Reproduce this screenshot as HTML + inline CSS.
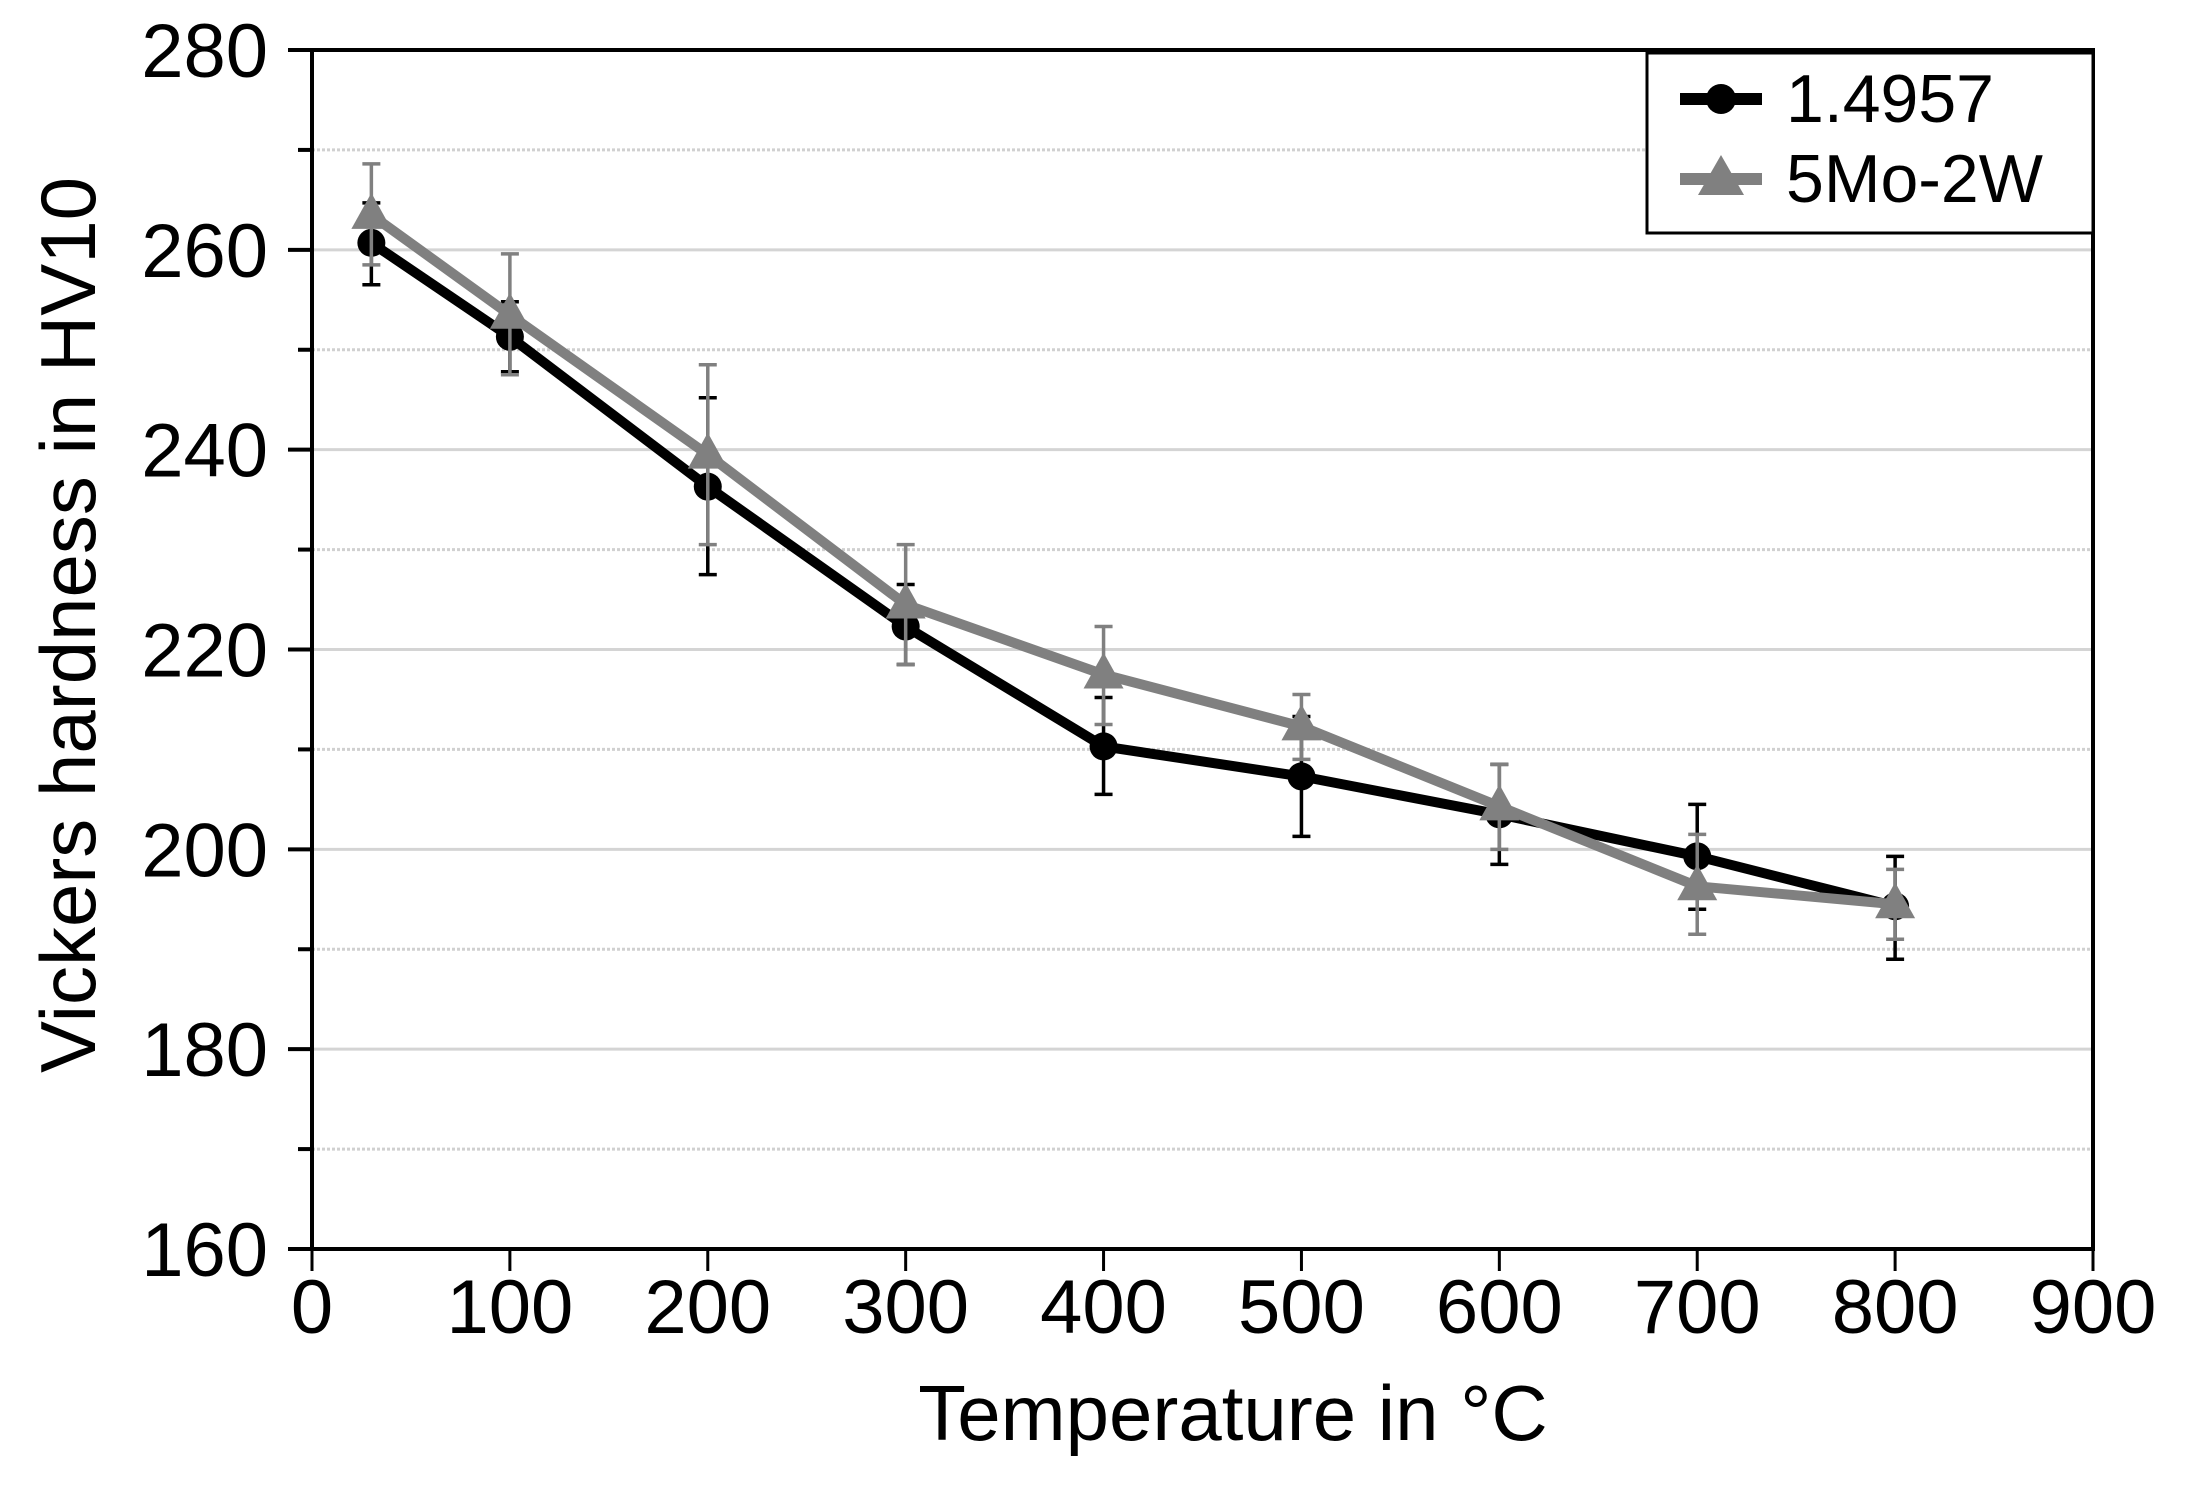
<!DOCTYPE html>
<html><head><meta charset="utf-8"><style>
html,body{margin:0;padding:0;background:#fff;}
svg{display:block;font-family:"Liberation Sans",Arial,sans-serif;}
</style></head><body>
<svg id="chart" width="2189" height="1501" viewBox="0 0 2189 1501" xmlns="http://www.w3.org/2000/svg">
<g id="grid"></g>
<g id="series"></g>
<g id="axes"></g>
<text x="1233" y="1440" font-size="78" text-anchor="middle">Temperature in °C</text>
<text transform="translate(95,625) rotate(-90)" font-size="78" text-anchor="middle">Vickers hardness in HV10</text>
<g>
<rect x="1647" y="53" width="446" height="180" fill="#fff" stroke="#000" stroke-width="3"/>
<g>
<line x1="1680" y1="99" x2="1762" y2="99" stroke="#000" stroke-width="12"/>
<circle cx="1721" cy="99" r="15" fill="#000"/>
<text x="1786" y="122" font-size="68">1.4957</text>
</g>
<g>
<line x1="1680" y1="179" x2="1762" y2="179" stroke="#808080" stroke-width="12"/>
<polygon points="1721,155 1744,195 1698,195" fill="#808080"/>
<text x="1786" y="202" font-size="68">5Mo-2W</text>
</g>
</g>
</svg>
<script>
const temps=[30,100,200,300,400,500,600,700,800];
const hardA=[260.7,251.3,236.3,222.3,210.3,207.3,203.5,199.3,194.3];
const lowA=[256.5,247.8,227.5,218.5,205.5,201.3,198.5,194,189];
const highA=[264.7,254.8,245.2,226.5,215.2,213.3,208.5,204.5,199.3];
const hardB=[263.5,253.5,239.5,224.5,217.5,212.3,204.3,196.3,194.5];
const lowB=[258.5,247.5,230.5,218.5,212.5,209,200,191.5,191];
const highB=[268.6,259.6,248.5,230.5,222.3,215.5,208.5,201.5,198];
const xTicks=[0,100,200,300,400,500,600,700,800,900];
const yTicks=[160,180,200,220,240,260,280];
const yMinor=[170,190,210,230,250,270];
const L=312,R=2093,T=50,B=1249;
const xs=v=>L+(v/900)*(R-L);
const ys=v=>B-(v-160)/120*(B-T);
const NS="http://www.w3.org/2000/svg";
function mk(tag,attrs,parent){const e=document.createElementNS(NS,tag);for(const k in attrs)e.setAttribute(k,attrs[k]);parent.appendChild(e);return e;}
const grid=document.getElementById('grid'),axes=document.getElementById('axes'),ser=document.getElementById('series');
yTicks.forEach(v=>{if(v===160||v===280)return;const l=mk('line',{x1:L,x2:R,y1:ys(v),y2:ys(v),stroke:'#d4d4d4','stroke-width':3},grid);

});
yMinor.forEach(v=>{const l=mk('line',{x1:L,x2:R,y1:ys(v),y2:ys(v),stroke:'#d0d0d0','stroke-width':3,'stroke-dasharray':'3 2'},grid);


const t=mk('line',{x1:L-14,x2:L,y1:ys(v),y2:ys(v),stroke:'#000','stroke-width':4},axes);

});
const frame=mk('rect',{x:L,y:T,width:R-L,height:B-T,fill:'none',stroke:'#000','stroke-width':4},axes);


yTicks.forEach(v=>{const t=mk('line',{x1:L-24,x2:L,y1:ys(v),y2:ys(v),stroke:'#000','stroke-width':4},axes);


const tx=mk('text',{x:268,y:ys(v)+27,'font-size':76,'text-anchor':'end'},axes);tx.textContent=v;

});
xTicks.forEach(v=>{const t=mk('line',{x1:xs(v),x2:xs(v),y1:B,y2:B+22,stroke:'#000','stroke-width':3},axes);


const tx=mk('text',{x:xs(v),y:1333,'font-size':76,'text-anchor':'middle'},axes);tx.textContent=v;

});
function drawSeries(vals,lo,hi,color,ew,marker,name){
const g=mk('g',{},ser);


temps.forEach((t,i)=>{const x=xs(t);
const e=mk('path',{d:`M${x},${ys(lo[i])}V${ys(hi[i])}M${x-9},${ys(lo[i])}H${x+9}M${x-9},${ys(hi[i])}H${x+9}`,stroke:color,'stroke-width':ew,fill:'none'},g);

});
const pl=mk('polyline',{points:temps.map((t,i)=>xs(t)+','+ys(vals[i])).join(' '),fill:'none',stroke:color,'stroke-width':10,'stroke-linejoin':'round'},g);


temps.forEach((t,i)=>{const x=xs(t),y=ys(vals[i]);let m;
if(marker==='circle')m=mk('circle',{cx:x,cy:y,r:14,fill:color},g);
else m=mk('polygon',{points:`${x},${y-22} ${x+20},${y+14} ${x-20},${y+14}`,fill:color},g);

});}
drawSeries(hardA,lowA,highA,'#000',3.5,'circle','1-4957');
drawSeries(hardB,lowB,highB,'#808080',3.5,'triangle','5mo-2w');
</script>
</body></html>
